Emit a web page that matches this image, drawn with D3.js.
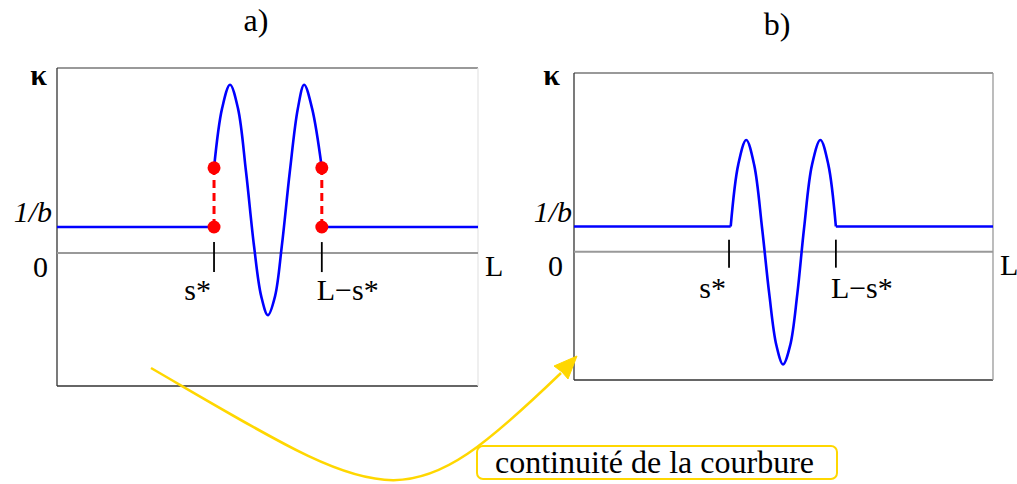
<!DOCTYPE html>
<html>
<head>
<meta charset="utf-8">
<script src="https://cdn.jsdelivr.net/npm/d3@7"></script>
<style>
  body { margin: 0; background: #fff; }
</style>
</head>
<body>
<script>
// s in units of L, kappa in units of 1/b
var panelNames = ["a)", "b)"];

var flatA = [[[0, 1], [0.373, 1]], [[0.629, 1], [1, 1]]];
var bumpA = [[0.373, 3.27], [0.392, 5.54], [0.411, 6.46], [0.430, 5.54], [0.449, 3.12],
             [0.468, 0.27], [0.485, -1.65], [0.501, -2.38], [0.518, -1.65], [0.534, 0.27],
             [0.553, 3.12], [0.572, 5.54], [0.587, 6.46], [0.606, 5.54], [0.629, 3.27]];
var jumpsA = [[0.373, 1, 3.27], [0.629, 1, 3.27]];
var ticksA = [0.373, 0.629];

var flatB = [[[0, 1], [0.374, 1]], [[0.625, 1], [1, 1]]];
var bumpB = [[0.374, 1.0], [0.392, 3.46], [0.411, 4.44], [0.430, 3.45], [0.449, 0.92],
             [0.466, -1.68], [0.483, -3.72], [0.499, -4.48], [0.516, -3.72], [0.533, -1.68],
             [0.549, 0.92], [0.568, 3.45], [0.588, 4.44], [0.607, 3.46], [0.625, 1.0]];
var ticksB = [0.370, 0.625];

var tickLabels = ["s*", "L\u2212s*"];
var yDomain = [-5.1, 7.1];

// yellow arrow under the panels (page pixels): start, two controls, end
var arrowCurve = [[151, 368], [392, 508], [403, 525], [561, 373]];
var noteText = "continuit\u00e9 de la courbure";

var FONT = "'Liberation Serif', Tinos, 'Times New Roman', serif";
var W = 1017, H = 484;

var svg = d3.select("body").append("svg")
    .attr("width", W)
    .attr("height", H);
var back = svg.append("g");
var front = svg.append("g");

function label(x, y, anchor, size, s) {
  return front.append("text")
    .attr("class", "lbl")
    .style("font-family", FONT)
    .style("font-size", size + "px")
    .attr("x", x).attr("y", y)
    .attr("text-anchor", anchor)
    .text(s);
}

var panels = [
  {name: panelNames[0], left: 57, right: 478, top: 68, bottom: 386, flat: flatA, bump: bumpA,
   jumps: jumpsA, ticks: ticksA, titleX: 256, titleY: 31, rightEdge: "#e6e6e6",
   kx: 47, kappaY: 85, bx: 52, zx: 48, lblY: 300, tickUp: 11, tickDown: 19},
  {name: panelNames[1], left: 574, right: 993, top: 73, bottom: 380, flat: flatB, bump: bumpB,
   jumps: [], ticks: ticksB, titleX: 777, titleY: 35, rightEdge: "#999",
   kx: 560, kappaY: 85, bx: 572, zx: 563, lblY: 298, tickUp: 12, tickDown: 16}
];

panels.forEach(function(p) {
  var x = d3.scaleLinear().domain([0, 1]).range([p.left, p.right]);
  var y = d3.scaleLinear().domain(yDomain).range([p.bottom, p.top]);

  // labels first
  label(p.titleX, p.titleY, "middle", 32, p.name);
  label(p.kx, p.kappaY, "end", 30, "\u03ba").style("font-weight", "bold");
  label(p.bx, y(1) - 5, "end", 30, "1/b").style("font-style", "italic");
  label(p.zx, y(0) + 24, "end", 30, "0");
  label(p.right + 7, y(0) + 23, "start", 30, "L");
  label(x(p.ticks[0]) - 3, p.lblY, "end", 30, tickLabels[0]);
  label(x(p.ticks[1]) - 5, p.lblY, "start", 30, tickLabels[1]);

  var g = back.append("g");

  // frame
  g.append("line").attr("x1", p.left).attr("x2", p.right).attr("y1", p.top).attr("y2", p.top)
    .attr("stroke", "#777").attr("stroke-width", 1.3);
  g.append("line").attr("x1", p.left).attr("x2", p.right).attr("y1", p.bottom).attr("y2", p.bottom)
    .attr("stroke", "#333").attr("stroke-width", 1.3);
  g.append("line").attr("x1", p.left).attr("x2", p.left).attr("y1", p.top).attr("y2", p.bottom)
    .attr("stroke", "#333").attr("stroke-width", 1.3);
  g.append("line").attr("x1", p.right).attr("x2", p.right).attr("y1", p.top).attr("y2", p.bottom)
    .attr("stroke", p.rightEdge).attr("stroke-width", 1.3);

  // zero line
  g.append("line")
    .attr("x1", x(0)).attr("x2", x(1))
    .attr("y1", y(0)).attr("y2", y(0))
    .attr("stroke", "#999").attr("stroke-width", 2);

  // ticks at s* and L-s*
  g.selectAll(".tk").data(p.ticks).enter().append("line")
    .attr("x1", function(d) { return x(d); })
    .attr("x2", function(d) { return x(d); })
    .attr("y1", y(0) - p.tickUp)
    .attr("y2", y(0) + p.tickDown)
    .attr("stroke", "#000").attr("stroke-width", 1.8);

  var line = d3.line().x(function(d) { return x(d[0]); }).y(function(d) { return y(d[1]); });

  // flat parts
  g.selectAll(".flat").data(p.flat).enter().append("path")
    .attr("d", line)
    .attr("fill", "none").attr("stroke", "#0000ff").attr("stroke-width", 2.6);

  // oscillation
  g.append("path")
    .datum(p.bump)
    .attr("d", line.curve(d3.curveCatmullRom.alpha(0.5)))
    .attr("fill", "none").attr("stroke", "#0000ff").attr("stroke-width", 2.6);

  // jumps (panel a)
  p.jumps.forEach(function(j) {
    g.append("line")
      .attr("x1", x(j[0])).attr("x2", x(j[0]))
      .attr("y1", y(j[1])).attr("y2", y(j[2]))
      .attr("stroke", "#ff0000").attr("stroke-width", 3)
      .attr("stroke-dasharray", "8,5");
    g.selectAll(null).data([j[1], j[2]]).enter().append("circle")
      .attr("cx", x(j[0]))
      .attr("cy", function(d) { return y(d); })
      .attr("r", 6.5)
      .attr("fill", "#ff0000");
  });
});

// annotation arrow
var ap = d3.path();
ap.moveTo(arrowCurve[0][0], arrowCurve[0][1]);
ap.bezierCurveTo(arrowCurve[1][0], arrowCurve[1][1], arrowCurve[2][0], arrowCurve[2][1],
                 arrowCurve[3][0], arrowCurve[3][1]);
back.append("path")
  .attr("d", ap.toString())
  .attr("fill", "none").attr("stroke", "#ffd700").attr("stroke-width", 2.5);

back.append("polygon")
  .attr("points", [[577, 356], [568, 379], [562, 372], [554, 366]].join(" "))
  .attr("fill", "#ffd700").attr("stroke", "#ffd700").attr("stroke-width", 1);

back.append("rect")
  .attr("x", 477).attr("y", 446).attr("width", 360).attr("height", 33)
  .attr("rx", 6)
  .attr("fill", "#fff").attr("stroke", "#ffd700").attr("stroke-width", 2);

var note = label(495, 473, "start", 32, noteText);

// re-apply the family once fonts are settled
if (document.fonts && document.fonts.ready) {
  document.fonts.ready.then(function() {
    front.selectAll("text.lbl").style("font-family", FONT);
  });
}
</script>
</body>
</html>
